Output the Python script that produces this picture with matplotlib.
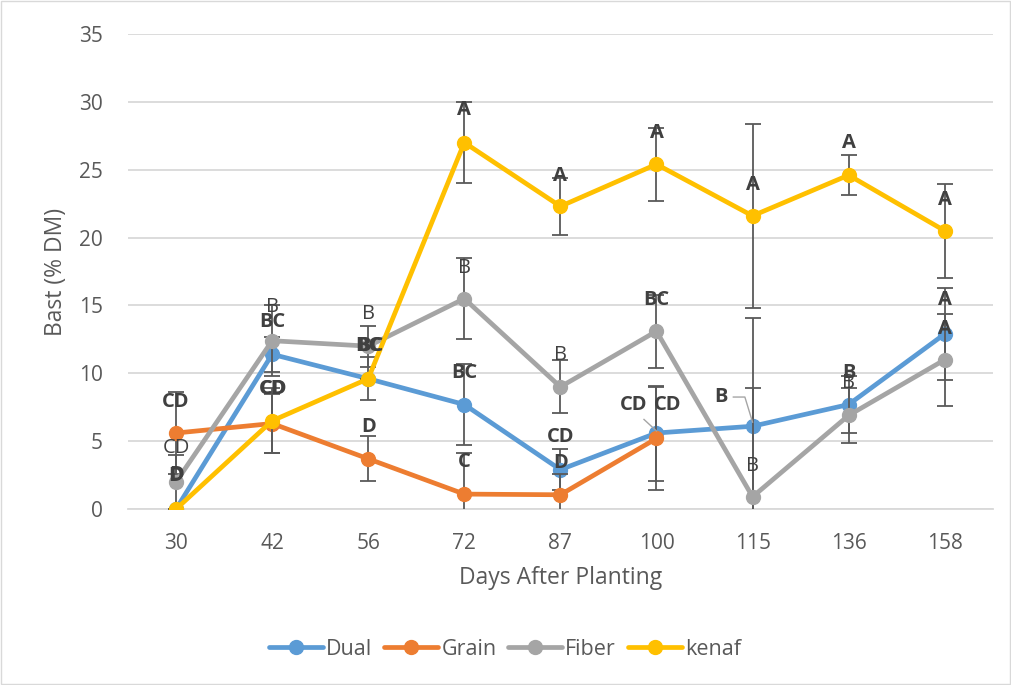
import numpy as np
import matplotlib.pyplot as plt

plt.rcParams['font.family'] = ['Open Sans', 'DejaVu Sans']

days = ['30', '42', '56', '72', '87', '100', '115', '136', '158']

dual = [0.0, 11.4, 9.6, 7.7, 2.9, 5.6, 6.1, 7.7, 12.9]
dual_err = [0.0, 1.3, 1.6, 3.0, 1.5, 3.5, 8.0, 2.1, 3.4]
grain = [5.6, 6.3, 3.7, 1.1, 1.05, 5.2]
grain_err = [3.0, 2.2, 1.65, 3.0, 1.5, 3.8]
fiber = [2.0, 12.4, 12.0, 15.5, 9.0, 13.1, 0.9, 6.9, 11.0]
fiber_err = [2.0, 2.6, 1.5, 3.0, 1.95, 2.7, 8.0, 2.05, 3.4]
kenaf = [0.0, 6.5, 9.6, 27.0, 22.3, 25.4, 21.6, 24.6, 20.5]
kenaf_err = [0.0, 2.4, 0.0, 3.0, 2.1, 2.7, 6.8, 1.5, 3.45]

# significance letters: (text, x position, y position, bold)
letters = [
    ('D', 0, 2.4, True), ('BC', 1, 13.8, True), ('BC', 2, 12.0, True),
    ('BC', 3, 10.0, True), ('D', 4, 3.4, True), ('CD', 4.76, 7.66, True),
    ('B', 5.67, 8.25, True), ('B', 7, 10.0, True), ('A', 8, 15.4, True),
    ('CD', 0, 7.9, True), ('CD', 1, 8.85, True), ('D', 2, 6.04, True),
    ('C', 3, 3.46, True), ('CD', 4, 5.3, True), ('CD', 5.12, 7.66, True),
    ('CD', 0, 4.5, False), ('B', 1, 14.9, False), ('B', 2, 14.4, False),
    ('B', 3, 17.75, False), ('B', 4, 11.35, False), ('BC', 5, 15.4, True),
    ('B', 6, 3.17, False), ('B', 7, 9.3, False), ('A', 8, 13.3, True),
    ('D', 0.01, 2.5, True), ('CD', 1.02, 8.85, True), ('BC', 2.02, 12.0, True),
    ('A', 3, 29.4, True), ('A', 4, 24.54, True), ('A', 5, 27.7, True),
    ('A', 6, 23.87, True), ('A', 7, 26.97, True), ('A', 8, 22.77, True),
]

fig = plt.figure(figsize=(10.12, 6.85), dpi=100)
ax = fig.add_axes([0.1265, 0.2569, 0.8545, 0.6935])

series = [
    ('Dual', dual, dual_err, '#5B9BD5'),
    ('Grain', grain, grain_err, '#ED7D31'),
    ('Fiber', fiber, fiber_err, '#A5A5A5'),
    ('kenaf', kenaf, kenaf_err, '#FFC000'),
]
handles = []
for i, (name, vals, err, col) in enumerate(series):
    x = np.arange(len(vals))
    ax.errorbar(x, vals, yerr=err, fmt='none', ecolor='#595959',
                elinewidth=1.3, capsize=6, capthick=1.3, zorder=3 + i)
    h, = ax.plot(x, vals, '-o', color=col, lw=3.4, ms=10, label=name,
                 zorder=3 + i, solid_capstyle='round')
    handles.append(h)

for txt, xp, yp, bold in letters:
    ax.text(xp, yp, txt, ha='center', va='center', fontsize=14.5,
            color='#404040', fontweight='bold' if bold else 'normal',
            zorder=10)

# leader lines
ax.plot([4.87, 5.0], [6.6, 5.75], color='#A5A5A5', lw=1, zorder=9)
ax.plot([5.8, 5.92, 6.0], [8.25, 8.25, 6.4], color='#A5A5A5', lw=1, zorder=9)

ax.set_xlim(-0.5, 8.5)
ax.set_ylim(0, 35)
ax.set_yticks(range(0, 36, 5))
ax.set_xticks(range(len(days)))
ax.set_xticklabels(days)
ax.grid(axis='y', color='#D9D9D9', lw=1.3)
ax.set_axisbelow(True)
for s in ['top', 'right', 'left']:
    ax.spines[s].set_visible(False)
ax.spines['bottom'].set_color('#D9D9D9')
ax.spines['bottom'].set_linewidth(1.3)
ax.tick_params(length=0, labelsize=15, colors='#595959', pad=17)
ax.tick_params(axis='y', pad=18)
ax.set_xlabel('Days After Planting', fontsize=16.5, color='#595959', labelpad=9)
ax.set_ylabel('Bast (% DM)', fontsize=16.5, color='#595959', labelpad=8)

fig.legend(handles=handles, loc='center', bbox_to_anchor=(0.499, 0.052),
           ncol=4, frameon=False, fontsize=15.5, labelcolor='#595959',
           handlelength=2.5, handletextpad=0.15, columnspacing=0.55)

fig.patches.append(plt.Rectangle((0.001, 0.002), 0.997, 0.996, fill=False,
                                 edgecolor='#D9D9D9', lw=1,
                                 transform=fig.transFigure))

fig.savefig('out.png', dpi=100)
